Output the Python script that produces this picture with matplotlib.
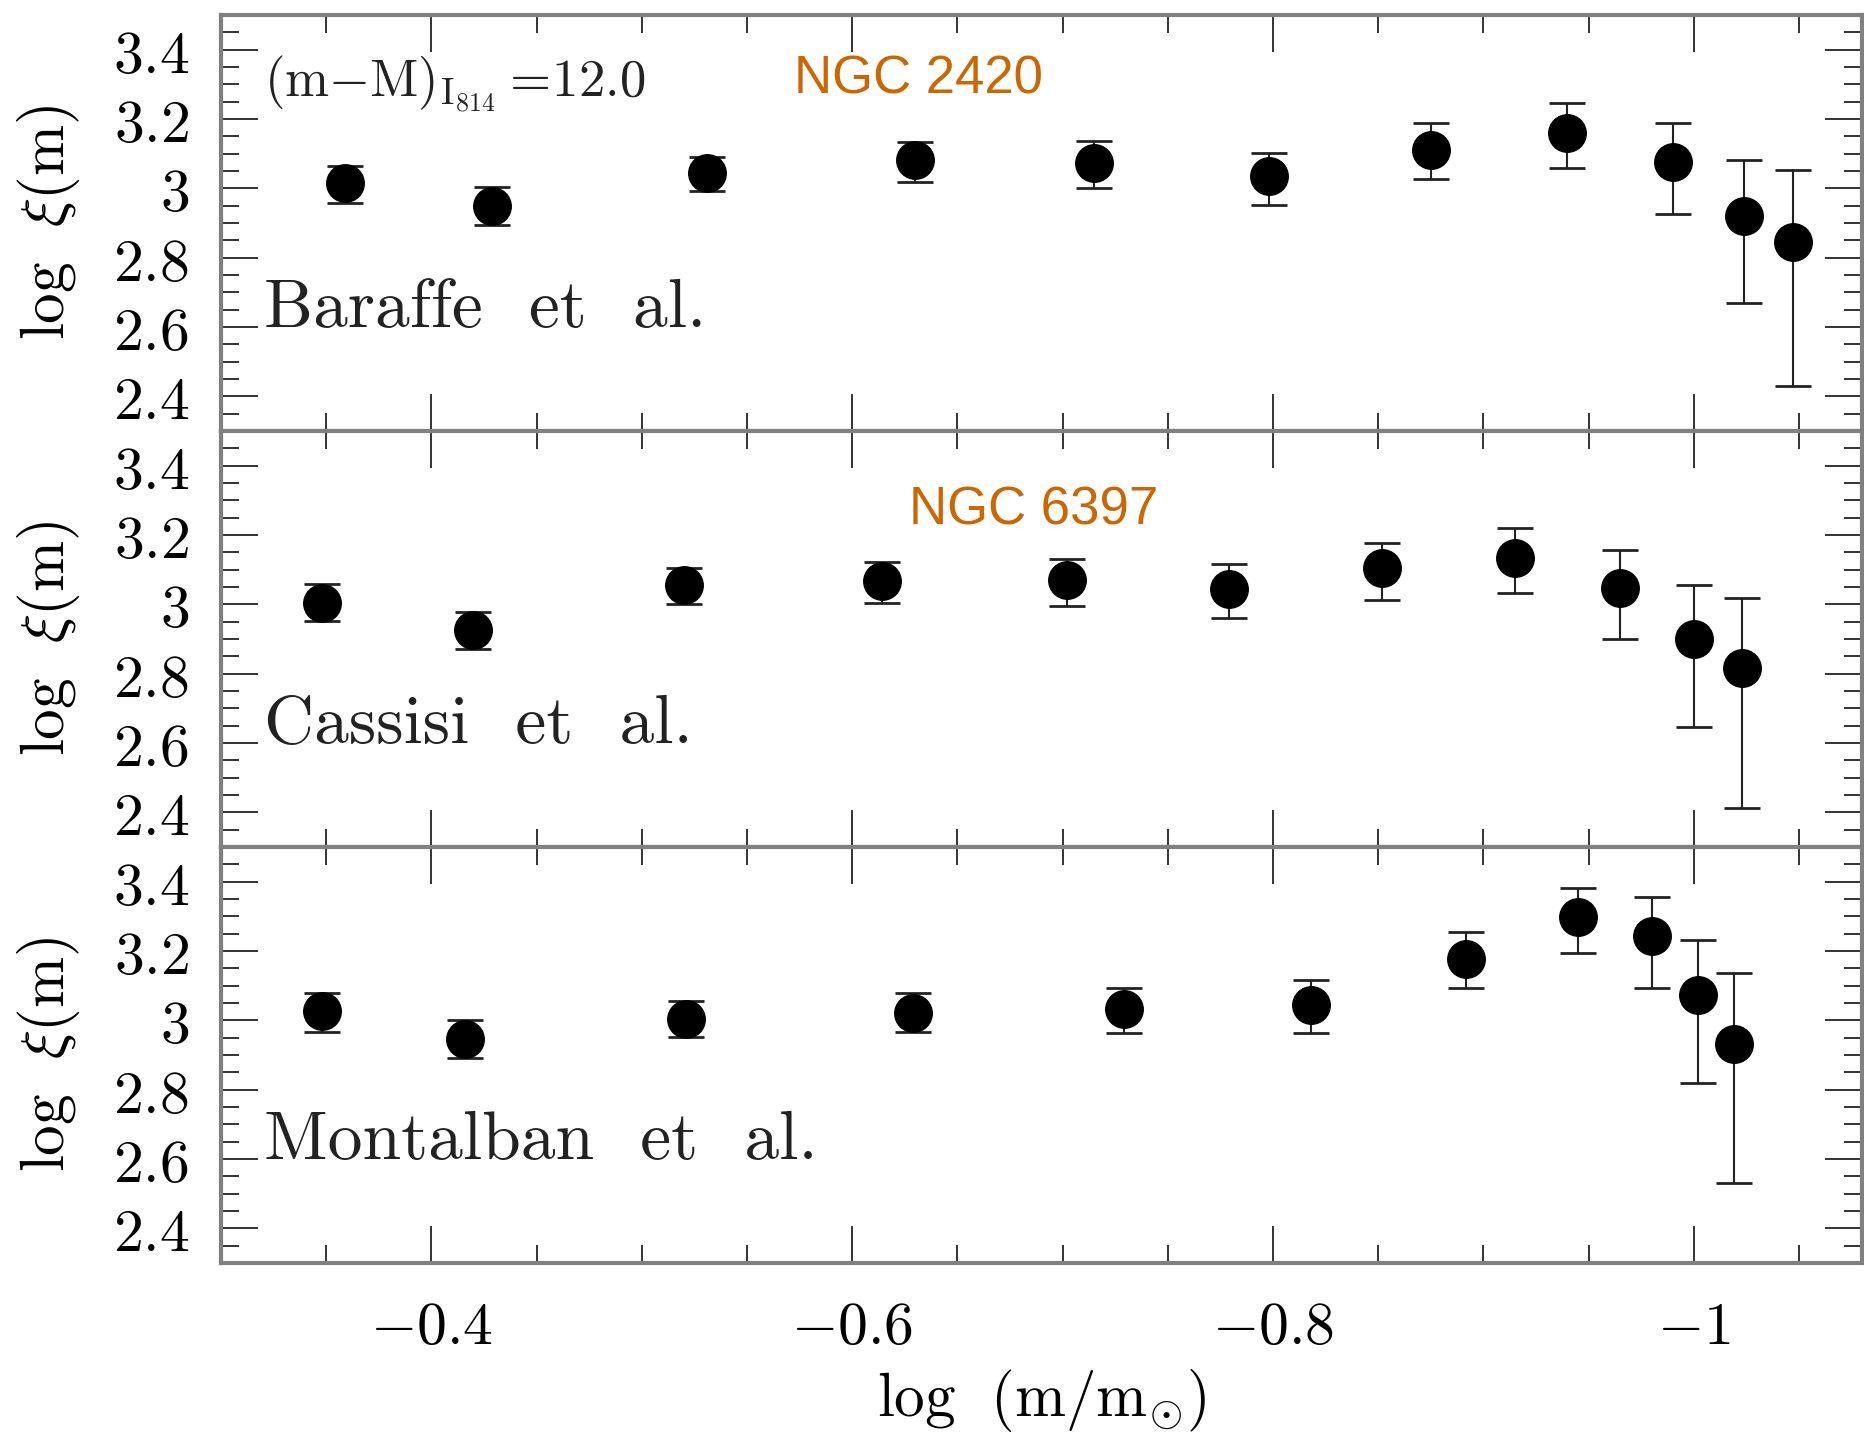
import matplotlib
matplotlib.use("Agg")
import matplotlib.pyplot as plt
from matplotlib.ticker import MultipleLocator, FuncFormatter

plt.rcParams['mathtext.fontset'] = 'cm'

# ---------------- data ----------------
x_baraffe = [-0.359, -0.429, -0.531, -0.630, -0.715, -0.798, -0.875, -0.940, -0.990, -1.024, -1.047]
y_baraffe = [3.014, 2.950, 3.043, 3.081, 3.072, 3.035, 3.111, 3.160, 3.075, 2.919, 2.845]
up_baraffe = [0.051, 0.053, 0.048, 0.053, 0.064, 0.068, 0.077, 0.086, 0.113, 0.162, 0.207]
lo_baraffe = [0.056, 0.057, 0.050, 0.063, 0.070, 0.082, 0.084, 0.101, 0.149, 0.250, 0.415]

x_cassisi = [-0.348, -0.420, -0.520, -0.614, -0.702, -0.779, -0.852, -0.915, -0.965, -1.000, -1.023]
y_cassisi = [3.005, 2.925, 3.056, 3.066, 3.069, 3.045, 3.104, 3.135, 3.048, 2.900, 2.817]
up_cassisi = [0.054, 0.052, 0.048, 0.055, 0.062, 0.072, 0.074, 0.085, 0.110, 0.156, 0.200]
lo_cassisi = [0.052, 0.054, 0.056, 0.062, 0.075, 0.085, 0.092, 0.102, 0.147, 0.254, 0.405]

x_montalban = [-0.348, -0.416, -0.521, -0.629, -0.729, -0.818, -0.892, -0.945, -0.980, -1.002, -1.019]
y_montalban = [3.026, 2.947, 3.005, 3.022, 3.032, 3.045, 3.178, 3.297, 3.244, 3.074, 2.933]
up_montalban = [0.054, 0.053, 0.050, 0.058, 0.062, 0.071, 0.077, 0.084, 0.113, 0.157, 0.204]
lo_montalban = [0.060, 0.056, 0.053, 0.056, 0.069, 0.081, 0.086, 0.104, 0.150, 0.254, 0.403]

model_labels = ['Baraffe  et  al.', 'Cassisi  et  al.', 'Montalban  et  al.']
cluster_labels = ['NGC 2420', 'NGC 6397', None]
modulus_label = r'$(\mathrm{m}{-}\mathrm{M})_{\mathrm{I}_{814}}\,\!=\!12.0$'
xlabel_text = r'$\mathrm{log}\ \ (\mathrm{m/m}_{\odot})$'
ylabel_text = r'$\mathrm{log}\ \ \xi(\mathrm{m})$'

series = [
    (x_baraffe, y_baraffe, lo_baraffe, up_baraffe),
    (x_cassisi, y_cassisi, lo_cassisi, up_cassisi),
    (x_montalban, y_montalban, lo_montalban, up_montalban),
]

# ---------------- figure ----------------
W, H = 1864, 1435
fig, axes = plt.subplots(3, 1, sharex=True, figsize=(W / 100, H / 100), dpi=100)
fig.subplots_adjust(left=221 / W, right=1862 / W, top=1 - 15 / H, bottom=1 - 1263 / H, hspace=0)

frame_col = '#808080'
tick_col = '#333333'
orange = '#CC6600'


def yfmt(v, pos):
    s = f'{v:.1f}'
    if s.endswith('.0'):
        s = s[:-2]
    return f'${s}$'


def xfmt(v, pos):
    s = f'{v:.1f}'
    if s.endswith('.0'):
        s = s[:-2]
    return f'${s}$'


for i, ax in enumerate(axes):
    x, y, lo, up = series[i]
    ax.errorbar(x, y, yerr=[lo, up], fmt='o', ms=27, mfc='black', mec='black',
                ecolor='#222222', elinewidth=1.5, capsize=13, capthick=2.0, zorder=3)
    ax.set_xlim(-0.3, -1.08)
    ax.set_ylim(2.3, 3.5)
    ax.yaxis.set_major_locator(MultipleLocator(0.2))
    ax.yaxis.set_minor_locator(MultipleLocator(0.05))
    ax.xaxis.set_major_locator(MultipleLocator(0.2))
    ax.xaxis.set_minor_locator(MultipleLocator(0.05))
    ax.yaxis.set_major_formatter(FuncFormatter(yfmt))
    ax.xaxis.set_major_formatter(FuncFormatter(xfmt))
    ax.tick_params(which='both', direction='in', top=True, right=True,
                   color=tick_col, width=1.4, labelsize=43)
    ax.tick_params(which='major', length=26.5)
    ax.tick_params(which='minor', length=13)
    ax.tick_params(axis='y', pad=23)
    ax.tick_params(axis='x', pad=25)
    for sp in ax.spines.values():
        sp.set_color(frame_col)
        sp.set_linewidth(3)

    ax.set_ylabel(ylabel_text, fontsize=44)
    ax.yaxis.label.set_va('center')
    ax.yaxis.set_label_coords(-0.1054, 0.5)

    ax.text(-0.3204, 2.60, model_labels[i], fontfamily='cmr10', fontsize=50,
            ha='left', va='baseline', color='#222222')

axes[0].text(-0.3204, 3.266, modulus_label, fontsize=38, ha='left', va='baseline', color='#222222')
axes[0].text(-0.5725, 3.275, cluster_labels[0], fontfamily='Liberation Sans', fontsize=38,
             color=orange, ha='left', va='baseline')
axes[1].text(-0.6269, 3.231, cluster_labels[1], fontfamily='Liberation Sans', fontsize=38,
             color=orange, ha='left', va='baseline')

axes[2].set_xlabel(xlabel_text, fontsize=44)
axes[2].xaxis.label.set_va('center')
axes[2].xaxis.set_label_coords(0.5, (1263 - 1400) / 415.8)

fig.savefig('out.png', dpi=100, facecolor='white')
